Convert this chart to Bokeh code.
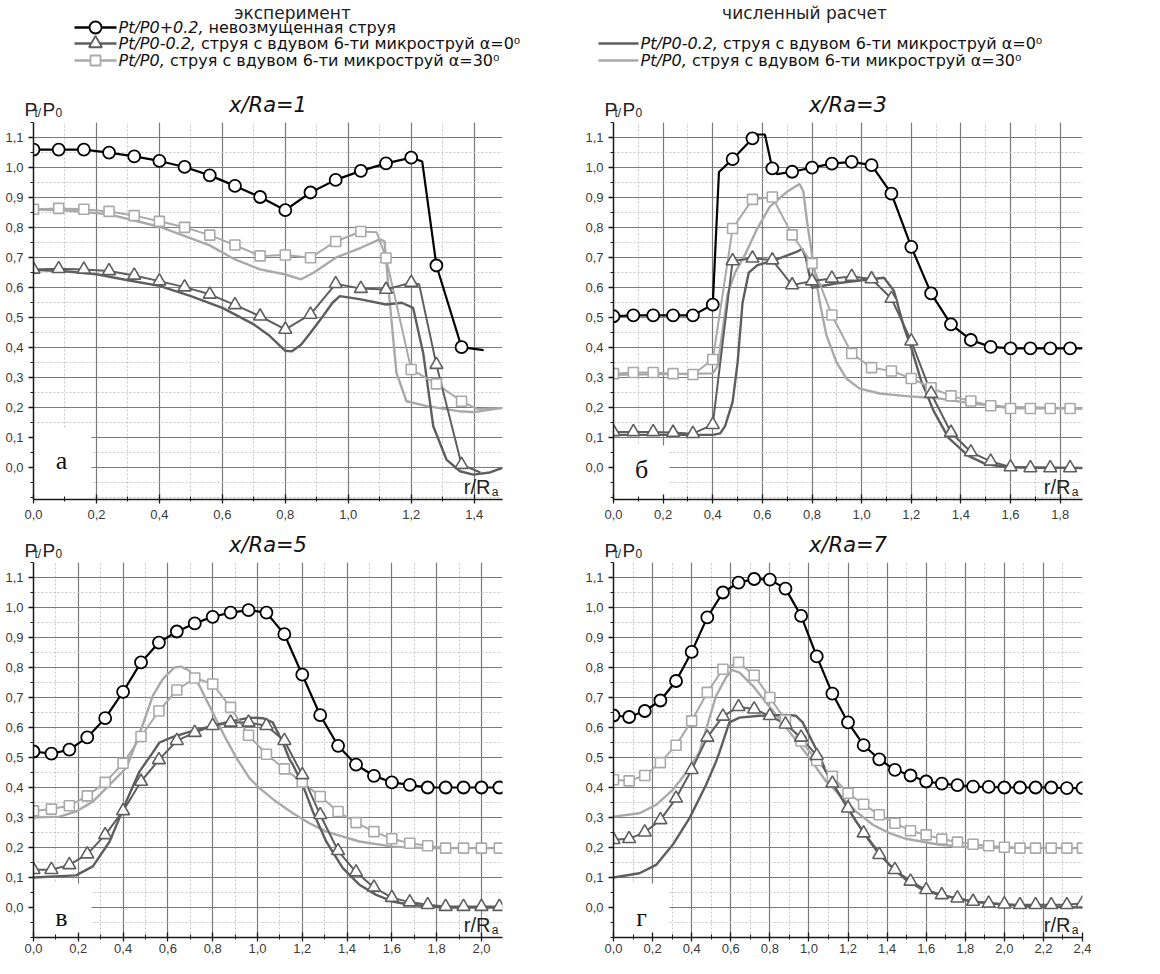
from bokeh.plotting import figure
from bokeh.layouts import column, row
from bokeh.models import Range1d, FixedTicker, CustomJSTickFormatter, Label, BoxAnnotation
from bokeh.embed import file_html
from bokeh.resources import INLINE

# ---------------- DATA ----------------
# panel а : x/Ra = 1
xa = [0.00, 0.08, 0.16, 0.24, 0.32, 0.40, 0.48, 0.56, 0.64, 0.72, 0.80, 0.88, 0.96, 1.04, 1.12, 1.20, 1.28, 1.36]
circ_a = [1.060, 1.060, 1.060, 1.050, 1.037, 1.022, 1.002, 0.974, 0.939, 0.902, 0.858, 0.917, 0.959, 0.989, 1.014, 1.033, 0.674, 0.402]
tri_a = [0.661, 0.663, 0.661, 0.656, 0.641, 0.622, 0.602, 0.578, 0.543, 0.505, 0.461, 0.511, 0.613, 0.597, 0.594, 0.617, 0.344, 0.011]
sq_a = [0.861, 0.864, 0.861, 0.854, 0.840, 0.821, 0.801, 0.775, 0.742, 0.706, 0.709, 0.700, 0.754, 0.787, 0.699, 0.328, 0.280, 0.222]
circ_a_ext_x = [1.235, 1.43]
circ_a_ext_y = [1.020, 0.392]
tri_a_ext_x = [1.225, 1.42]
tri_a_ext_y = [0.612, -0.015]
sq_a_ext_x = [1.09, 1.41, 1.49]
sq_a_ext_y = [0.785, 0.196, 0.200]
num_dark_a_x = [0.00, 0.10, 0.20, 0.30, 0.40, 0.50, 0.60, 0.70, 0.75, 0.80, 0.82, 0.85, 0.88, 0.92, 0.95, 0.973, 1.00, 1.04, 1.12, 1.17, 1.206, 1.238, 1.27, 1.312, 1.355, 1.397, 1.45, 1.49]
num_dark_a_y = [0.660, 0.655, 0.645, 0.625, 0.606, 0.572, 0.533, 0.478, 0.440, 0.390, 0.388, 0.410, 0.450, 0.506, 0.550, 0.572, 0.568, 0.561, 0.544, 0.550, 0.533, 0.383, 0.139, 0.028, -0.011, -0.022, -0.015, 0.000]
num_light_a_x = [0.00, 0.10, 0.24, 0.40, 0.56, 0.64, 0.72, 0.80, 0.85, 0.89, 0.96, 1.04, 1.10, 1.115, 1.132, 1.153, 1.185, 1.25, 1.35, 1.40, 1.49]
num_light_a_y = [0.860, 0.858, 0.844, 0.803, 0.741, 0.694, 0.661, 0.644, 0.628, 0.650, 0.700, 0.733, 0.761, 0.755, 0.550, 0.317, 0.222, 0.206, 0.189, 0.186, 0.200]

# panel б : x/Ra = 3
xb = [0.00, 0.08, 0.16, 0.24, 0.32, 0.40, 0.48, 0.56, 0.64, 0.72, 0.80, 0.88, 0.96, 1.04, 1.12, 1.20, 1.28, 1.36, 1.44, 1.52, 1.60, 1.68, 1.76, 1.84]
circ_b = [0.505, 0.508, 0.508, 0.508, 0.508, 0.544, 1.028, 1.097, 0.997, 0.986, 1.000, 1.013, 1.019, 1.008, 0.913, 0.736, 0.581, 0.478, 0.426, 0.403, 0.398, 0.398, 0.398, 0.398]
tri_b = [0.120, 0.120, 0.120, 0.118, 0.114, 0.144, 0.689, 0.698, 0.692, 0.609, 0.622, 0.631, 0.637, 0.629, 0.564, 0.422, 0.248, 0.118, 0.053, 0.022, 0.003, 0.000, 0.000, 0.000]
sq_b = [0.314, 0.318, 0.318, 0.314, 0.311, 0.361, 0.797, 0.894, 0.902, 0.776, 0.681, 0.509, 0.381, 0.334, 0.323, 0.298, 0.267, 0.240, 0.223, 0.207, 0.198, 0.198, 0.198, 0.198]
circ_b_ext_x = [0.425, 0.575, 0.61, 0.66, 1.89]
circ_b_ext_y = [0.985, 1.110, 1.110, 0.978, 0.398]
tri_b_ext_x = [1.89]
tri_b_ext_y = [0.000]
sq_b_ext_x = [1.89]
sq_b_ext_y = [0.198]
num_dark_b_x = [0.00, 0.40, 0.43, 0.45, 0.48, 0.50, 0.52, 0.545, 0.58, 0.66, 0.74, 0.76, 0.775, 0.80, 0.90, 1.00, 1.09, 1.13, 1.17, 1.20, 1.24, 1.29, 1.35, 1.43, 1.50, 1.58, 1.89]
num_dark_b_y = [0.110, 0.110, 0.115, 0.140, 0.220, 0.350, 0.550, 0.650, 0.675, 0.695, 0.720, 0.730, 0.700, 0.600, 0.615, 0.625, 0.633, 0.590, 0.470, 0.400, 0.290, 0.190, 0.100, 0.040, 0.013, 0.003, 0.000]
num_light_b_x = [0.00, 0.40, 0.42, 0.44, 0.46, 0.49, 0.53, 0.575, 0.63, 0.70, 0.75, 0.765, 0.78, 0.804, 0.831, 0.858, 0.898, 0.938, 0.992, 1.073, 1.18, 1.315, 1.449, 1.583, 1.89]
num_light_b_y = [0.310, 0.315, 0.340, 0.460, 0.580, 0.650, 0.710, 0.790, 0.870, 0.920, 0.945, 0.920, 0.820, 0.687, 0.553, 0.442, 0.353, 0.298, 0.264, 0.248, 0.239, 0.231, 0.214, 0.203, 0.198]

# panel в : x/Ra = 5
xc = [0.00, 0.08, 0.16, 0.24, 0.32, 0.40, 0.48, 0.56, 0.64, 0.72, 0.80, 0.88, 0.96, 1.04, 1.12, 1.20, 1.28, 1.36, 1.44, 1.52, 1.60, 1.68, 1.76, 1.84, 1.92, 2.00, 2.08]
circ_c = [0.520, 0.513, 0.526, 0.567, 0.631, 0.719, 0.817, 0.883, 0.920, 0.947, 0.969, 0.983, 0.991, 0.983, 0.911, 0.776, 0.641, 0.539, 0.476, 0.439, 0.417, 0.409, 0.400, 0.400, 0.400, 0.400, 0.400]
tri_c = [0.126, 0.126, 0.142, 0.178, 0.242, 0.322, 0.420, 0.492, 0.556, 0.583, 0.606, 0.617, 0.617, 0.606, 0.556, 0.442, 0.309, 0.189, 0.118, 0.067, 0.033, 0.018, 0.009, 0.003, 0.003, 0.003, 0.003]
sq_c = [0.322, 0.328, 0.339, 0.372, 0.417, 0.481, 0.570, 0.655, 0.725, 0.765, 0.745, 0.667, 0.574, 0.511, 0.462, 0.418, 0.370, 0.320, 0.283, 0.253, 0.229, 0.214, 0.206, 0.198, 0.198, 0.198, 0.198]
num_dark_c_x = [0.00, 0.19, 0.265, 0.34, 0.414, 0.473, 0.533, 0.5625, 0.622, 0.711, 0.86, 0.964, 1.024, 1.068, 1.113, 1.143, 1.158, 1.202, 1.247, 1.307, 1.381, 1.455, 1.53, 1.604, 1.679, 1.83, 2.094]
num_dark_c_y = [0.100, 0.107, 0.137, 0.220, 0.353, 0.453, 0.517, 0.550, 0.569, 0.589, 0.617, 0.633, 0.631, 0.617, 0.550, 0.494, 0.476, 0.409, 0.320, 0.220, 0.131, 0.076, 0.042, 0.020, 0.009, 0.000, 0.000]
num_light_c_x = [0.00, 0.116, 0.19, 0.265, 0.339, 0.414, 0.443, 0.488, 0.533, 0.577, 0.629, 0.659, 0.696, 0.741, 0.80, 0.86, 0.905, 0.964, 1.009, 1.083, 1.158, 1.232, 1.307, 1.455, 1.604, 1.753, 2.094]
num_light_c_y = [0.300, 0.303, 0.320, 0.353, 0.409, 0.465, 0.520, 0.610, 0.706, 0.761, 0.800, 0.803, 0.789, 0.739, 0.650, 0.561, 0.500, 0.431, 0.398, 0.353, 0.314, 0.281, 0.253, 0.220, 0.203, 0.198, 0.198]

# panel г : x/Ra = 7
xd = [0.00, 0.08, 0.16, 0.24, 0.32, 0.40, 0.48, 0.56, 0.64, 0.72, 0.80, 0.88, 0.96, 1.04, 1.12, 1.20, 1.28, 1.36, 1.44, 1.52, 1.60, 1.68, 1.76, 1.84, 1.92, 2.00, 2.08, 2.16, 2.24, 2.32, 2.40]
circ_d = [0.640, 0.635, 0.655, 0.690, 0.755, 0.852, 0.967, 1.050, 1.083, 1.095, 1.093, 1.063, 0.972, 0.837, 0.713, 0.617, 0.541, 0.494, 0.459, 0.440, 0.420, 0.413, 0.408, 0.403, 0.402, 0.400, 0.400, 0.400, 0.400, 0.398, 0.398]
tri_d = [0.226, 0.229, 0.251, 0.292, 0.364, 0.459, 0.567, 0.637, 0.669, 0.661, 0.639, 0.611, 0.567, 0.506, 0.414, 0.331, 0.248, 0.176, 0.126, 0.087, 0.059, 0.042, 0.031, 0.020, 0.014, 0.011, 0.009, 0.009, 0.009, 0.009, 0.014]
sq_d = [0.426, 0.422, 0.440, 0.483, 0.541, 0.622, 0.717, 0.794, 0.817, 0.774, 0.700, 0.625, 0.555, 0.490, 0.437, 0.381, 0.344, 0.309, 0.281, 0.256, 0.242, 0.228, 0.218, 0.211, 0.206, 0.201, 0.198, 0.198, 0.198, 0.198, 0.198]
num_dark_d_x = [0.00, 0.133, 0.218, 0.303, 0.389, 0.474, 0.525, 0.542, 0.593, 0.645, 0.747, 0.883, 0.934, 0.968, 1.02, 1.054, 1.088, 1.156, 1.241, 1.327, 1.412, 1.497, 1.582, 1.668, 1.838, 2.009, 2.18, 2.40]
num_dark_d_y = [0.100, 0.114, 0.142, 0.209, 0.298, 0.409, 0.487, 0.517, 0.617, 0.633, 0.639, 0.642, 0.639, 0.617, 0.550, 0.506, 0.453, 0.376, 0.287, 0.209, 0.142, 0.092, 0.059, 0.042, 0.020, 0.009, 0.003, 0.000]
num_light_d_x = [0.00, 0.133, 0.218, 0.303, 0.389, 0.44, 0.474, 0.525, 0.576, 0.607, 0.645, 0.713, 0.781, 0.849, 0.917, 0.968, 1.003, 1.088, 1.156, 1.241, 1.327, 1.412, 1.497, 1.668, 1.838, 2.40]
num_light_d_y = [0.303, 0.314, 0.342, 0.392, 0.464, 0.520, 0.594, 0.706, 0.767, 0.792, 0.783, 0.739, 0.683, 0.628, 0.572, 0.528, 0.498, 0.420, 0.376, 0.320, 0.276, 0.248, 0.229, 0.209, 0.200, 0.198]

# tick values
y_major = [0.0, 0.1, 0.2, 0.3, 0.4, 0.5, 0.6, 0.7, 0.8, 0.9, 1.0, 1.1]
y_minor = [-0.1, -0.05, 0.0, 0.05, 0.1, 0.15, 0.2, 0.25, 0.3, 0.35, 0.4, 0.45, 0.5, 0.55, 0.6,
           0.65, 0.7, 0.75, 0.8, 0.85, 0.9, 0.95, 1.0, 1.05, 1.1, 1.15]
x_major_all = [0.0, 0.2, 0.4, 0.6, 0.8, 1.0, 1.2, 1.4, 1.6, 1.8, 2.0, 2.2, 2.4]
x_minor_all = [0.0, 0.1, 0.2, 0.3, 0.4, 0.5, 0.6, 0.7, 0.8, 0.9, 1.0, 1.1, 1.2, 1.3, 1.4, 1.5,
               1.6, 1.7, 1.8, 1.9, 2.0, 2.1, 2.2, 2.3, 2.4]

# texts
leg_title_exp = "эксперимент"
leg_title_num = "численный расчет"
leg_it = ["Pt/P0+0.2,", "Pt/P0-0.2,", "Pt/P0,"]
leg_tx = ["невозмущенная струя", "струя с вдувом 6-ти микроструй α=0⁰", "струя с вдувом 6-ти микроструй α=30⁰"]
titles = ["x/Ra=1", "x/Ra=3", "x/Ra=5", "x/Ra=7"]
letters = ["а", "б", "в", "г"]

# ---------------- STYLE ----------------
BLACK = "#000000"
DARK = "#5e5e5e"
LIGHT = "#a9a9a9"
YMAX = 1.15
SANS = "DejaVu Sans"
ARIAL = "Liberation Sans"
SERIF = "Liberation Serif"

fmt = CustomJSTickFormatter(code="return tick.toFixed(1).replace('.', ',');")


def merged(x, y, ex, ey):
    pts = sorted(list(zip(x, y)) + list(zip(ex, ey)))
    return [p[0] for p in pts], [p[1] for p in pts]


def make_panel(w, h, bl, br, bb, xmax, ymin, letter, box_r, box_t, letter_dy, x_std, series):
    p = figure(width=w, height=h, x_range=Range1d(0, xmax), y_range=Range1d(ymin, YMAX),
               toolbar_location=None, output_backend="svg",
               min_border_left=bl, min_border_right=br, min_border_top=0, min_border_bottom=bb)
    p.outline_line_color = None
    p.background_fill_color = "white"
    p.border_fill_color = "white"

    xm = [v for v in x_major_all if v <= xmax + 1e-9]
    xn = [v for v in x_minor_all if v <= xmax + 1e-9]
    p.xaxis.ticker = FixedTicker(ticks=xm, minor_ticks=xn)
    p.yaxis.ticker = FixedTicker(ticks=y_major, minor_ticks=y_minor)
    p.xaxis.formatter = fmt
    p.yaxis.formatter = fmt

    for g in (p.xgrid, p.ygrid):
        g.grid_line_color = "#7a7a7a"
        g.grid_line_width = 1.2
        g.minor_grid_line_color = "#c6c6c6"
        g.minor_grid_line_dash = "2 2"
        g.minor_grid_line_width = 1

    p.axis.axis_line_color = "#1a1a1a"
    p.axis.axis_line_width = 1.5
    p.axis.major_tick_line_color = "#1a1a1a"
    p.axis.minor_tick_line_color = "#1a1a1a"
    p.axis.major_tick_line_width = 1.3
    p.axis.major_label_text_font = ARIAL
    p.axis.major_label_text_font_size = "13px"
    p.axis.major_label_text_color = "#3a3a3a"
    p.xaxis.major_tick_in = 5
    p.xaxis.major_tick_out = 4
    p.xaxis.minor_tick_in = 3
    p.xaxis.minor_tick_out = 2
    p.xaxis.major_label_standoff = x_std
    p.yaxis.major_tick_in = 0
    p.yaxis.major_tick_out = 5
    p.yaxis.minor_tick_in = 0
    p.yaxis.minor_tick_out = 3
    p.yaxis.major_label_standoff = 5

    p.add_layout(BoxAnnotation(left=0, right=box_r, bottom=ymin, top=box_t,
                               fill_color="white", fill_alpha=1.0, line_alpha=0,
                               level="underlay"))

    (cx, cy, cex, cey), (tx, ty, tex, tey), (sx, sy, sex, sey), (ndx, ndy), (nlx, nly) = series
    p.line(nlx, nly, line_color=LIGHT, line_width=2.4)
    p.line(ndx, ndy, line_color=DARK, line_width=2.4)
    lx, ly = merged(sx, sy, sex, sey)
    p.line(lx, ly, line_color=LIGHT, line_width=2.0)
    lx, ly = merged(tx, ty, tex, tey)
    p.line(lx, ly, line_color=DARK, line_width=2.0)
    lx, ly = merged(cx, cy, cex, cey)
    p.line(lx, ly, line_color=BLACK, line_width=2.2)
    p.scatter(sx, sy, marker="square", size=10, fill_color="white", line_color=LIGHT, line_width=1.6)
    p.scatter(tx, ty, marker="triangle", size=13, fill_color="white", line_color=DARK, line_width=1.6)
    p.scatter(cx, cy, marker="circle", size=12, fill_color="white", line_color=BLACK, line_width=1.8)

    # r/R_a (kept inside the frame)
    p.add_layout(Label(x=xmax, y=ymin, x_offset=-12, y_offset=13, text="r/R", text_align="right",
                       text_baseline="alphabetic", text_font=ARIAL, text_font_size="20px",
                       text_color="#222222"))
    p.add_layout(Label(x=xmax, y=ymin, x_offset=-4, y_offset=8, text="a", text_align="right",
                       text_baseline="alphabetic", text_font=ARIAL, text_font_size="12px",
                       text_color="#222222"))
    # panel letter
    p.add_layout(Label(x=0, y=ymin, x_offset=28, y_offset=letter_dy, text=letter,
                       text_align="center", text_baseline="middle", text_font=SERIF,
                       text_font_size="26px", text_color="#111111"))
    return p


pa = make_panel(572, 410, 33, 70, 33, 1.49, -0.105, letters[0], 0.184, 0.13, 39, 6,
                ((xa, circ_a, circ_a_ext_x, circ_a_ext_y), (xa, tri_a, tri_a_ext_x, tri_a_ext_y),
                 (xa, sq_a, sq_a_ext_x, sq_a_ext_y), (num_dark_a_x, num_dark_a_y),
                 (num_light_a_x, num_light_a_y)))
pb = make_panel(580, 410, 41, 70, 33, 1.89, -0.105, letters[1], 0.226, 0.075, 30, 6,
                ((xb, circ_b, circ_b_ext_x, circ_b_ext_y), (xb, tri_b, tri_b_ext_x, tri_b_ext_y),
                 (xb, sq_b, sq_b_ext_x, sq_b_ext_y), (num_dark_b_x, num_dark_b_y),
                 (num_light_b_x, num_light_b_y)))
pc = make_panel(572, 396, 33, 70, 21, 2.094, -0.1, letters[2], 0.259, 0.08, 20, 2,
                ((xc, circ_c, [], []), (xc, tri_c, [], []), (xc, sq_c, [], []),
                 (num_dark_c_x, num_dark_c_y), (num_light_c_x, num_light_c_y)))
pd = make_panel(580, 396, 41, 70, 21, 2.4, -0.1, letters[3], 0.286, 0.08, 20, 2,
                ((xd, circ_d, [], []), (xd, tri_d, [], []), (xd, sq_d, [], []),
                 (num_dark_d_x, num_dark_d_y), (num_light_d_x, num_light_d_y)))


def strip(h, y_top, y_bot):
    s = figure(width=1152, height=h, x_range=Range1d(8, 1160), y_range=Range1d(y_bot, y_top),
               toolbar_location=None, output_backend="svg", min_border=0,
               x_axis_type=None, y_axis_type=None)
    s.outline_line_color = None
    s.xgrid.visible = False
    s.ygrid.visible = False
    return s


def add_titles(s, t_left, t_right, ty, pby):
    for txt, cx in ((t_left, 275.5), (t_right, 855.5)):
        s.add_layout(Label(x=cx, y=ty, text=txt, text_align="center", text_baseline="middle",
                           text_font=SANS, text_font_style="italic", text_font_size="21px",
                           text_color="#111111"))
    for fl in (41, 621):
        for txt, dx, dy, fs in (("P", -9, -3, "19px"), ("t/", 1, 0, "12px"),
                                ("P", 9, -3, "19px"), ("0", 22, 0, "12px")):
            s.add_layout(Label(x=fl + dx, y=pby + dy, text=txt, text_align="left",
                               text_baseline="alphabetic", text_font=ARIAL, text_font_size=fs,
                               text_color="#222222"))


# ---------------- HEADER (legend + top titles) ----------------
hdr = strip(122, 8, 130)
hdr.add_layout(Label(x=300, y=20, text=leg_title_exp, text_align="center", text_baseline="middle",
                     text_font=SANS, text_font_size="17px", text_color="#222222"))
hdr.add_layout(Label(x=812, y=20, text=leg_title_num, text_align="center", text_baseline="middle",
                     text_font=SANS, text_font_size="17px", text_color="#222222"))

rows_y = [35, 51, 68]
it_w = [85, 77.5, 46.5]
marks = [("circle", BLACK, 12), ("triangle", DARK, 13), ("square", LIGHT, 10)]
FS = 16
for i in range(3):
    yy = rows_y[i]
    m, col, sz = marks[i]
    hdr.line([82, 124], [yy, yy], line_color=col, line_width=2.6)
    hdr.scatter([103], [yy], marker=m, size=sz, fill_color="white", line_color=col, line_width=1.8)
    for x0 in ([126] if i == 0 else [126, 648]):
        hdr.add_layout(Label(x=x0, y=yy, text=leg_it[i], text_align="left", text_baseline="middle",
                             text_font=SANS, text_font_style="italic", text_font_size=f"{FS}px",
                             text_color="#111111"))
        hdr.add_layout(Label(x=x0 + it_w[i] + 5, y=yy, text=leg_tx[i], text_align="left",
                             text_baseline="middle", text_font=SANS, text_font_size=f"{FS}px",
                             text_color="#111111"))
    if i > 0:
        hdr.line([606, 646], [yy, yy], line_color=col, line_width=2.6)

add_titles(hdr, titles[0], titles[1], 112, 120)

# ---------------- MIDDLE STRIP (bottom titles) ----------------
mid = strip(30, 540, 570)
add_titles(mid, titles[2], titles[3], 552, 561)

layout = column(hdr, row(pa, pb), mid, row(pc, pd))
open("out.html", "w").write(file_html(layout, INLINE, "chart"))
